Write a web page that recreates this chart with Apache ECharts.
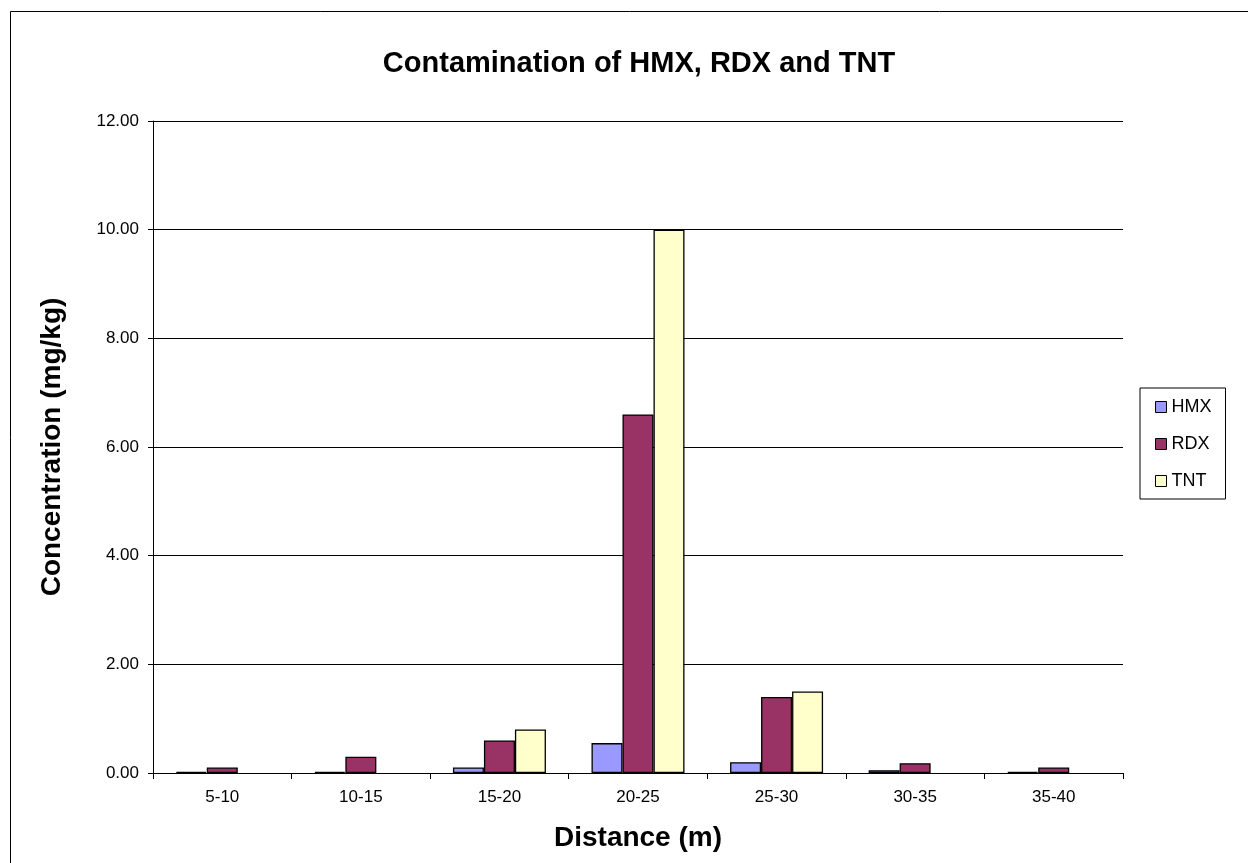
<!DOCTYPE html>
<html><head><meta charset="utf-8">
<script src="https://cdn.jsdelivr.net/npm/echarts@6/dist/echarts.min.js"></script>
<style>html,body{margin:0;padding:0;background:#fff}#c{width:1248px;height:863px}</style>
</head><body><div id="c"></div>
<script>
const categories = ['5-10','10-15','15-20','20-25','25-30','30-35','35-40'];
const hmx = [0.02, 0.02, 0.1, 0.55, 0.2, 0.05, 0.02];
const rdx = [0.1, 0.3, 0.6, 6.6, 1.4, 0.18, 0.1];
const tnt = [null, null, 0.8, 10.0, 1.5, null, null];
const yTicks = [0, 2, 4, 6, 8, 10, 12];

const font = 'Liberation Sans, Arial, sans-serif';
const chart = echarts.init(document.getElementById('c'));
const mk = (name, data, color) => ({
  name, type: 'bar', data, barWidth: 31, barGap: '0%',
  itemStyle: { color, borderColor: '#000', borderWidth: 1.3 },
  emphasis: { disabled: true }
});
chart.setOption({
  animation: false,
  textStyle: { fontFamily: font, color: '#000' },
  graphic: [{ type: 'rect', shape: { x: 10.5, y: 11.5, width: 1260, height: 880 },
    style: { fill: 'none', stroke: '#000', lineWidth: 1 }, silent: true }],
  title: { text: 'Contamination of HMX, RDX and TNT', left: 634, top: 44, textAlign: 'center',
    textStyle: { fontFamily: font, fontSize: 29, fontWeight: 'bold', color: '#000' } },
  grid: { left: 153, right: 125, top: 121, bottom: 90, containLabel: false },
  legend: {
    orient: 'vertical', left: 1140, top: 388,
    padding: [10, 14, 9, 15], itemGap: 19, itemWidth: 11, itemHeight: 11,
    borderColor: '#000', borderWidth: 1, icon: 'rect',
    itemStyle: { borderColor: '#000', borderWidth: 1 },
    textStyle: { fontFamily: font, fontSize: 18, lineHeight: 18, color: '#000' },
    data: ['HMX', 'RDX', 'TNT']
  },
  xAxis: {
    type: 'category', data: categories, boundaryGap: true,
    name: 'Distance (m)', nameLocation: 'middle', nameGap: 51,
    nameTextStyle: { fontFamily: font, fontSize: 28, fontWeight: 'bold', color: '#000' },
    axisLine: { lineStyle: { color: '#000', width: 1 } },
    axisTick: { show: true, length: 6, lineStyle: { color: '#000' }, alignWithLabel: false },
    axisLabel: { fontFamily: font, fontSize: 17, color: '#000', margin: 16 }
  },
  yAxis: {
    type: 'value', min: 0, max: 12, interval: 2,
    name: 'Concentration (mg/kg)', nameLocation: 'middle', nameGap: 87,
    nameTextStyle: { fontFamily: font, fontSize: 28, fontWeight: 'bold', color: '#000' },
    axisLine: { show: true, lineStyle: { color: '#000', width: 1 } },
    axisTick: { show: true, length: 5, inside: false, lineStyle: { color: '#000' } },
    axisLabel: { fontFamily: font, fontSize: 17, color: '#000', margin: 14,
      formatter: v => yTicks.includes(v) ? v.toFixed(2) : '' },
    splitLine: { show: true, lineStyle: { color: '#000', width: 1 } }
  },
  series: [mk('HMX', hmx, '#9999FF'), mk('RDX', rdx, '#993366'), mk('TNT', tnt, '#FFFFCC')]
});
</script></body></html>
